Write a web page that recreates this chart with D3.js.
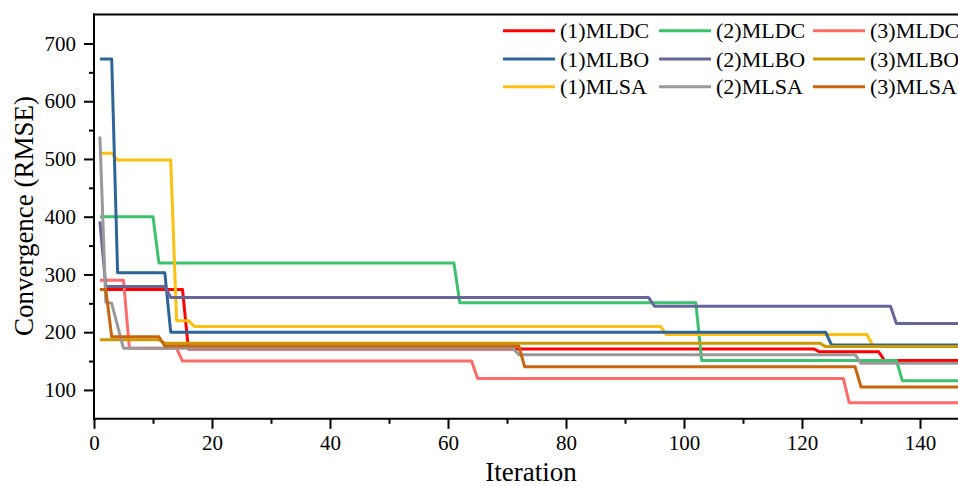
<!DOCTYPE html>
<html>
<head>
<meta charset="utf-8">
<script src="https://cdn.jsdelivr.net/npm/d3@7"></script>
<style>
  html, body { margin: 0; padding: 0; background: #fff; overflow: hidden; }
  svg { display: block; font-family: "Liberation Serif", "Times New Roman", serif; }
</style>
</head>
<body>
<svg id="chart" width="958" height="486"></svg>
<script>
// ---- data: breakpoints [iteration, RMSE] ----
const mldc1 = [[1,274],[15,274],[16,171],[122,171],[123,166],[133,166],[134,151],[150,151]];
const mldc2 = [[1,400],[10,400],[11,320],[61,320],[62,251],[102,251],[103,151],[136,151],[137,116],[150,116]];
const mldc3 = [[1,290],[5,290],[6,172],[14,172],[15,150],[64,150],[65,120],[127,120],[128,78],[150,78]];
const mlbo1 = [[1,673],[3,673],[4,303],[12,303],[13,200],[124,200],[125,178],[150,178]];
const mlbo2 = [[1,392],[2,279],[12,279],[13,260],[94,260],[95,245],[135,245],[136,215],[150,215]];
const mlbo3 = [[1,187],[11,187],[12,181],[123,181],[124,175],[150,175]];
const mlsa1 = [[1,510],[3,510],[4,498],[13,498],[14,220],[16,220],[17,210],[96,210],[97,196],[131,196],[132,177],[150,177]];
const mlsa2 = [[1,539],[2,252],[3,250],[5,172],[71,172],[72,161],[129,161],[130,146],[150,146]];
const mlsa3 = [[1,274],[2,274],[3,192],[11,192],[12,176],[72,176],[73,140],[129,140],[130,105],[150,105]];

const seriesNames = ["(1)MLDC","(2)MLDC","(3)MLDC","(1)MLBO","(2)MLBO","(3)MLBO","(1)MLSA","(2)MLSA","(3)MLSA"];
const seriesData  = [mldc1, mldc2, mldc3, mlbo1, mlbo2, mlbo3, mlsa1, mlsa2, mlsa3];
const seriesColors = ["#FF0000","#3CC26E","#FF6B6B","#2F6498","#666699","#CC9900","#FFC010","#999999","#C8650F"];
const drawOrder = [0,1,2,6,3,4,5,7,8];

const xMajorTicks = [0,20,40,60,80,100,120,140];
const yMajorTicks = [100,200,300,400,500,600,700];
const xTitle = "Iteration";
const yTitle = "Convergence (RMSE)";

// ---- layout ----
const svg = d3.select("#chart");
const x = d3.scaleLinear().domain([0,150]).range([94, 94 + 150*5.9]);
const y = d3.scaleLinear().domain([50,750]).range([418.8, 14.6]);

const x0 = x(0), yb = y(50), yt = y(750), xr = x(150);

// plot lines
const line = d3.line().x(d => x(d[0])).y(d => y(d[1]));
const clip = svg.append("clipPath").attr("id","clip")
  .append("rect").attr("x", x0).attr("y", yt).attr("width", xr - x0).attr("height", yb - yt);
const gLines = svg.append("g").attr("clip-path","url(#clip)");
drawOrder.forEach(i => {
  gLines.append("path")
    .datum(seriesData[i])
    .attr("fill","none")
    .attr("stroke", seriesColors[i])
    .attr("stroke-width", 3)
    .attr("stroke-linejoin","round")
    .attr("d", line);
});

// axes
const xAxis = d3.axisBottom(x).tickValues(xMajorTicks).tickSize(10).tickPadding(6).tickFormat(d3.format("d"));
const xMinor = d3.axisBottom(x).tickValues(d3.range(10,150,20)).tickSize(5).tickFormat("");
const yAxis = d3.axisLeft(y).tickValues(yMajorTicks).tickSize(10).tickPadding(8).tickFormat(d3.format("d"));
const yMinor = d3.axisLeft(y).tickValues(d3.range(150,750,100)).tickSize(5).tickFormat("");

function styleAxis(g) {
  g.select(".domain").remove();
  g.selectAll(".tick line").attr("stroke","#000").attr("stroke-width",2);
  g.selectAll(".tick text").attr("fill","#000").style("font-size","21px")
    .style("font-family",'"Liberation Serif", "Times New Roman", serif');
}
svg.append("g").attr("transform",`translate(0,${yb})`).call(xMinor).call(styleAxis);
svg.append("g").attr("transform",`translate(0,${yb})`).call(xAxis).call(styleAxis);
svg.append("g").attr("transform",`translate(${x0},0)`).call(yMinor).call(styleAxis);
svg.append("g").attr("transform",`translate(${x0},0)`).call(yAxis).call(styleAxis);

// frame lines
svg.append("line").attr("x1",x0).attr("x2",x0).attr("y1",yt-1).attr("y2",yb+1).attr("stroke","#000").attr("stroke-width",2);
svg.append("line").attr("x1",x0-1).attr("x2",xr).attr("y1",yb).attr("y2",yb).attr("stroke","#000").attr("stroke-width",2);
svg.append("line").attr("x1",x0-1).attr("x2",xr).attr("y1",yt).attr("y2",yt).attr("stroke","#000").attr("stroke-width",2);
svg.append("line").attr("x1",xr).attr("x2",xr).attr("y1",yt).attr("y2",yb).attr("stroke","#000").attr("stroke-width",2);

// titles
svg.append("text").attr("x", 531).attr("y", 481).attr("text-anchor","middle")
  .style("font-size","27px").attr("fill","#000").text(xTitle);
svg.append("text").attr("transform","translate(33,216) rotate(-90)").attr("text-anchor","middle")
  .style("font-size","27px").attr("fill","#000").text(yTitle);

// legend (3 columns x 3 rows)
const legCols = [503, 659, 813];
const legRows = [30.7, 59, 86.7];
seriesNames.forEach((name, i) => {
  const cx = legCols[i % 3], cy = legRows[Math.floor(i / 3)];
  svg.append("line").attr("x1", cx).attr("x2", cx + 52).attr("y1", cy).attr("y2", cy)
    .attr("stroke", seriesColors[i]).attr("stroke-width", 3);
  svg.append("text").attr("x", cx + 57).attr("y", cy + 7.5)
    .style("font-size","22px").attr("fill","#000").text(name);
});
</script>
</body>
</html>
